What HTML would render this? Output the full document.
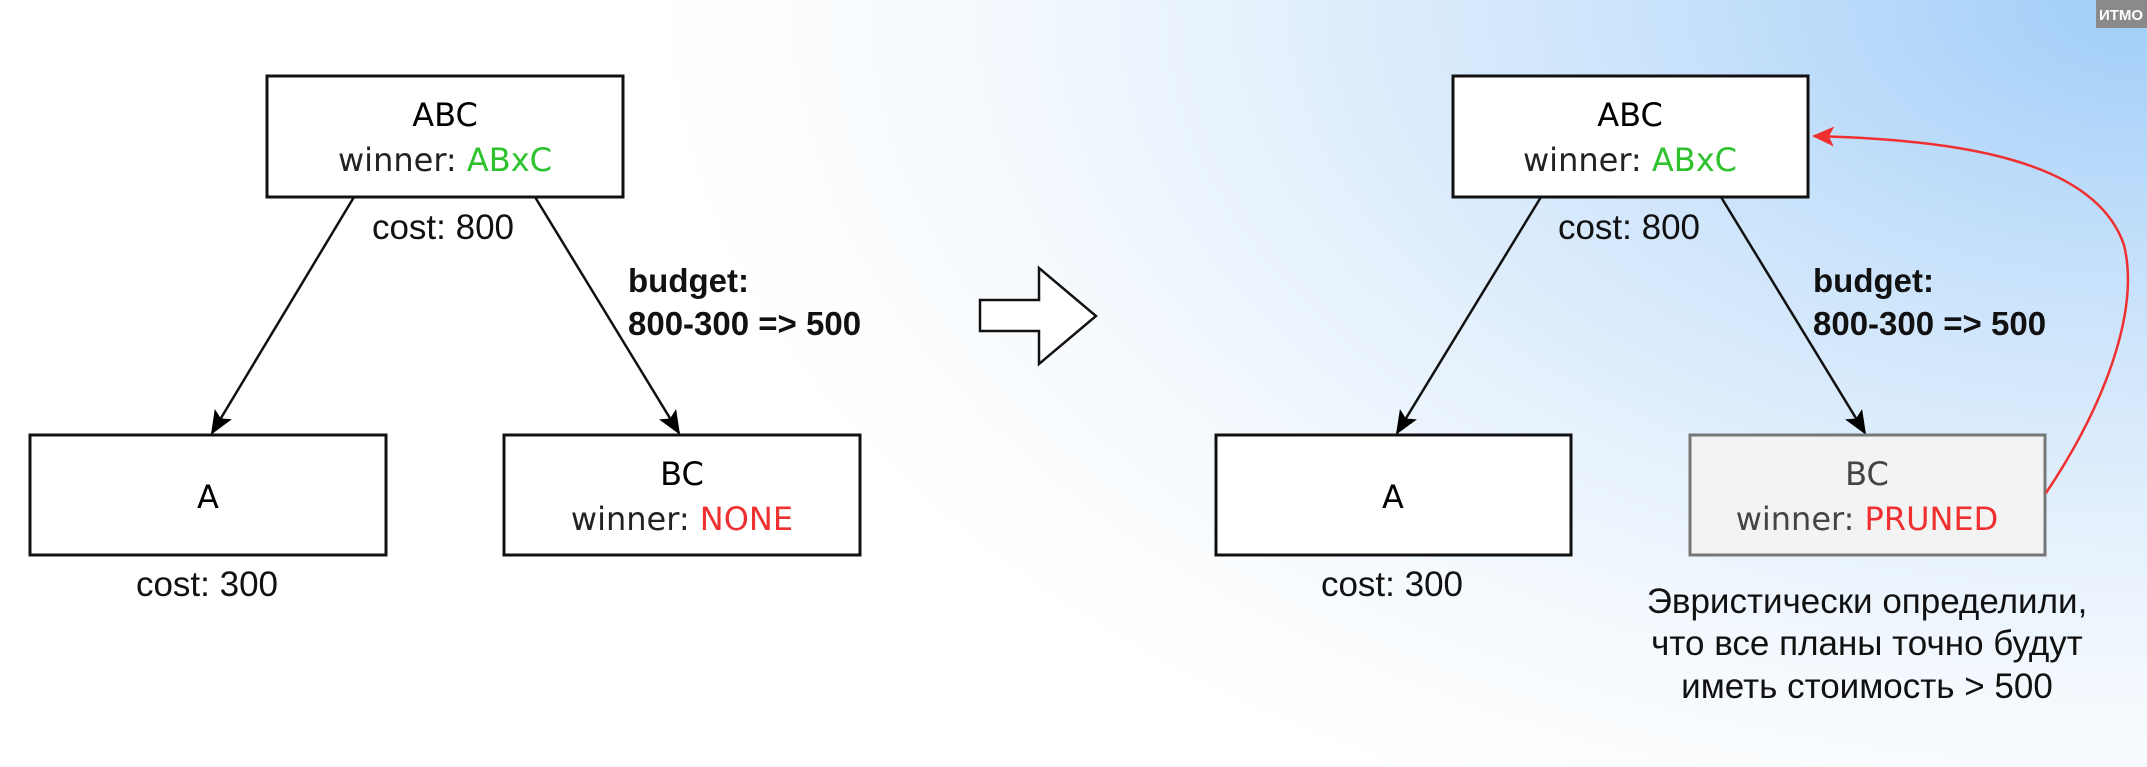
<!DOCTYPE html>
<html><head><meta charset="utf-8"><style>
html,body{margin:0;padding:0;width:2147px;height:767px;overflow:hidden}
body{background:radial-gradient(ellipse 1500px 900px at 2147px 0px,#a0cdf7 0%,#c6e1fb 30%,#e4f0fc 58%,#f6fafe 80%,#ffffff 100%)}
svg{position:absolute;left:0;top:0}
.n{font-family:"DejaVu Sans","Liberation Sans",sans-serif;font-size:32px;text-anchor:middle}
.c{font-family:"Liberation Sans","DejaVu Sans",sans-serif;font-size:35px;fill:#111}
.b{font-family:"Liberation Sans",sans-serif;font-size:33px;font-weight:bold;fill:#111}
</style></head><body>
<svg width="2147" height="767" viewBox="0 0 2147 767">
<defs>
<marker id="ah" markerWidth="24" markerHeight="20" refX="22" refY="10" orient="auto" markerUnits="userSpaceOnUse" viewBox="0 0 24 20"><path d="M0,0 L24,10 L0,20 L5,10 z" fill="#000"/></marker>
<marker id="ahr" markerWidth="22" markerHeight="20" refX="20" refY="10" orient="auto" markerUnits="userSpaceOnUse" viewBox="0 0 22 20"><path d="M0,0 L22,10 L0,20 L5,10 z" fill="#f03030"/></marker>
</defs>
<g>
<line x1="354" y1="197" x2="212" y2="433" stroke="#111" stroke-width="2.5" marker-end="url(#ah)"/>
<line x1="535" y1="197" x2="679" y2="433" stroke="#111" stroke-width="2.5" marker-end="url(#ah)"/>
<rect x="267" y="76" width="356" height="121" fill="#fff" stroke="#111" stroke-width="3"/>
<text class="n" x="445" y="126" font-size="37">ABC</text>
<text class="n" x="445" y="171"><tspan fill="#222">winner: </tspan><tspan fill="#2ec22e">ABxC</tspan></text>
<text class="c" x="443" y="239" text-anchor="middle">cost: 800</text>
<text class="b" x="628" y="292">budget:</text>
<text class="b" x="628" y="335">800-300 =&gt; 500</text>
<rect x="30" y="435" width="356" height="120" fill="#fff" stroke="#111" stroke-width="3"/>
<text class="n" x="208" y="508" font-size="37">A</text>
<text class="c" x="207" y="596" text-anchor="middle">cost: 300</text>
<rect x="504" y="435" width="356" height="120" fill="#fff" stroke="#111" stroke-width="3"/>
<text class="n" x="682" y="485" font-size="37">BC</text>
<text class="n" x="682" y="530"><tspan fill="#222">winner: </tspan><tspan fill="#f03030">NONE</tspan></text>
</g>
<path d="M980,300 L1039,300 L1039,268 L1096,316 L1039,364 L1039,331 L980,331 Z" fill="#fff" stroke="#111" stroke-width="2.5"/>
<g>
<line x1="1541" y1="197" x2="1397" y2="433" stroke="#111" stroke-width="2.5" marker-end="url(#ah)"/>
<line x1="1721" y1="197" x2="1865" y2="433" stroke="#111" stroke-width="2.5" marker-end="url(#ah)"/>
<rect x="1453" y="76" width="355" height="121" fill="#fff" stroke="#111" stroke-width="3"/>
<text class="n" x="1630" y="126" font-size="37">ABC</text>
<text class="n" x="1630" y="171"><tspan fill="#222">winner: </tspan><tspan fill="#2ec22e">ABxC</tspan></text>
<text class="c" x="1629" y="239" text-anchor="middle">cost: 800</text>
<text class="b" x="1813" y="292">budget:</text>
<text class="b" x="1813" y="335">800-300 =&gt; 500</text>
<rect x="1216" y="435" width="355" height="120" fill="#fff" stroke="#111" stroke-width="3"/>
<text class="n" x="1393" y="508" font-size="37">A</text>
<text class="c" x="1392" y="596" text-anchor="middle">cost: 300</text>
<rect x="1690" y="435" width="355" height="120" fill="#f3f3f3" stroke="#777" stroke-width="3"/>
<text class="n" x="1867" y="485" font-size="37" fill="#444">BC</text>
<text class="n" x="1867" y="530"><tspan fill="#444">winner: </tspan><tspan fill="#f03030">PRUNED</tspan></text>
<path d="M2046,493 C2105,405 2140,310 2124,245 C2095,160 1960,140 1814,136" fill="none" stroke="#f03030" stroke-width="2.5" marker-end="url(#ahr)"/>
<text class="c" x="1867" y="613" text-anchor="middle">Эвристически определили,</text>
<text class="c" x="1867" y="655" text-anchor="middle">что все планы точно будут</text>
<text class="c" x="1867" y="698" text-anchor="middle">иметь стоимость &gt; 500</text>
</g>
<rect x="2096" y="0" width="51" height="28" fill="#8a8a8a"/>
<text x="2121" y="20" text-anchor="middle" font-family="Liberation Sans, sans-serif" font-size="15" font-weight="bold" fill="#fff">ИТМО</text>
</svg>
</body></html>
